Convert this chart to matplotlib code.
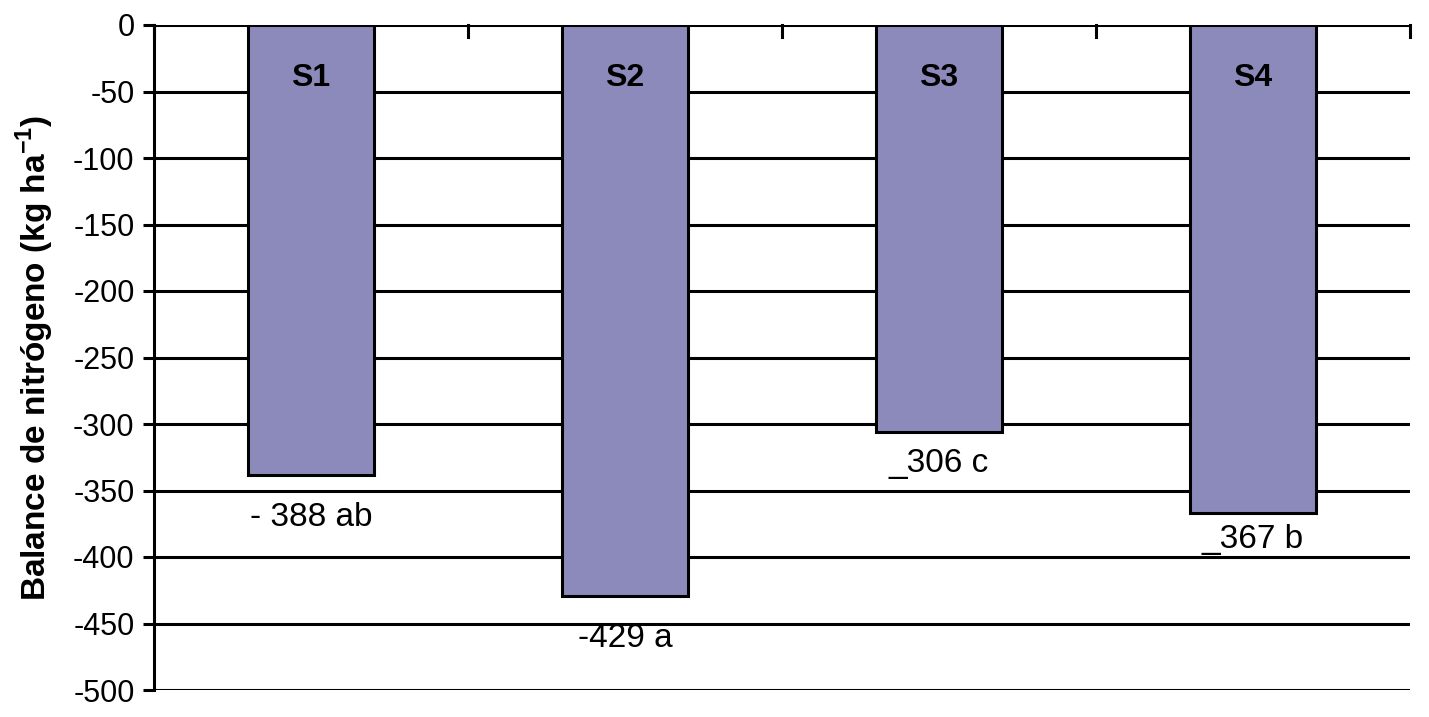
import numpy as np
from matplotlib import pyplot as plt

# Values
systems = ["S1", "S2", "S3", "S4"]
balance = [-338, -429, -306, -367]
value_labels = ["- 388 ab", "-429 a", "_306 c", "_367 b"]
yticks = [0, -50, -100, -150, -200, -250, -300, -350, -400, -450, -500]

plt.rcParams['font.family'] = ['Liberation Sans', 'DejaVu Sans']
plt.rcParams['mathtext.fontset'] = 'custom'
plt.rcParams['mathtext.bf'] = 'Liberation Sans:bold'
plt.rcParams['mathtext.rm'] = 'Liberation Sans'

fig = plt.figure(figsize=(14.29, 7.17), dpi=100)
ax = fig.add_axes([154 / 1429, 1 - 690 / 717, 1256 / 1429, 665 / 717])

x = np.arange(len(systems))
ax.bar(x, balance, width=0.4, color="#8b8aba", edgecolor="black", linewidth=2.2, zorder=3)

# grid lines
for t in yticks:
    ax.axhline(t, color="black", linewidth=2.2, zorder=1)

ax.set_xlim(-0.5, len(systems) - 0.5)
ax.set_ylim(-500, 0)
ax.set_yticks(yticks)
ax.set_yticklabels([str(t) for t in yticks], fontsize=22)
ax.tick_params(axis="y", length=8, width=2.2, pad=6)

# category axis sits at the top (y = 0), ticks between categories pointing down
ax.set_xticks([])
for b in np.arange(-0.5, len(systems)):
    ax.plot([b, b], [0, -9], color="black", linewidth=2.2, zorder=4, clip_on=False)

for s in ["top", "right", "bottom"]:
    ax.spines[s].set_visible(False)
ax.spines["left"].set_linewidth(2.2)
ax.spines["left"].set_zorder(5)

for i, name in enumerate(systems):
    ax.text(x[i], -40, name, ha="center", va="center", fontsize=23, fontweight="bold", zorder=6)

# baselines of the value labels under the bars
label_y = [-377, -468, -336, -393]
for i, lab in enumerate(value_labels):
    ax.text(x[i], label_y[i], lab, ha="center", va="baseline", fontsize=24, zorder=6)

ax.set_ylabel("Balance de nitrógeno (kg ha$^{\\mathbf{-1}}$)", fontsize=24, fontweight="bold", labelpad=12)

plt.savefig("out.png", dpi=100)
